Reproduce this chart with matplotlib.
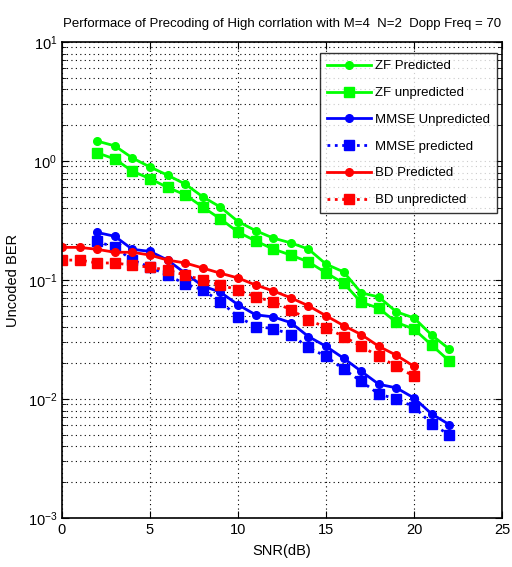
import matplotlib
matplotlib.use("Agg")
import matplotlib.pyplot as plt
from matplotlib.ticker import LogLocator, NullFormatter, FixedLocator

plt.rcParams['font.family'] = ['Liberation Sans', 'DejaVu Sans']

snr_zf = list(range(2, 23))
snr_mmse = list(range(2, 23))
snr_bd = list(range(0, 21))

zf_pred = [1.47, 1.34, 1.06, 0.89, 0.76, 0.64, 0.50, 0.41, 0.31, 0.26, 0.225,
           0.205, 0.182, 0.136, 0.117, 0.078, 0.072, 0.054, 0.048, 0.0345, 0.0263]
zf_unpred = [1.17, 1.04, 0.82, 0.71, 0.60, 0.52, 0.41, 0.326, 0.253, 0.213, 0.182,
             0.162, 0.142, 0.115, 0.094, 0.065, 0.058, 0.044, 0.0387, 0.0284, 0.0209]
mmse_unpred = [0.251, 0.233, 0.181, 0.174, 0.147, 0.114, 0.089, 0.079, 0.062, 0.051, 0.049,
               0.0438, 0.0335, 0.0277, 0.0220, 0.0171, 0.0133, 0.0124, 0.0102, 0.0075, 0.0061]
mmse_pred = [0.211, 0.188, 0.147, 0.128, 0.110, 0.0926, 0.0825, 0.0656, 0.0492, 0.0406, 0.0391,
             0.0348, 0.0271, 0.0228, 0.0178, 0.0141, 0.0110, 0.0100, 0.0086, 0.0062, 0.0050]
bd_pred = [0.188, 0.188, 0.181, 0.171, 0.171, 0.162, 0.147, 0.139, 0.126, 0.114, 0.104,
           0.0908, 0.0810, 0.0708, 0.0607, 0.0501, 0.0414, 0.0348, 0.0277, 0.0233, 0.0188]
bd_unpred = [0.147, 0.147, 0.139, 0.139, 0.133, 0.128, 0.121, 0.110, 0.100, 0.0908, 0.0825,
             0.0722, 0.0656, 0.0562, 0.0464, 0.0398, 0.0335, 0.0277, 0.0228, 0.0188, 0.0155]

labels = ['ZF Predicted', 'ZF unpredicted', 'MMSE Unpredicted', 'MMSE predicted',
          'BD Predicted', 'BD unpredicted']
title = 'Performace of Precoding of High corrlation with M=4  N=2  Dopp Freq = 70'

fig = plt.figure(figsize=(5.12, 5.67), dpi=100)
ax = fig.add_axes([62/512, 1-518/567, 440/512, 476/567])

green = '#00ff00'
blue = '#0000ff'
red = '#ff0000'
lw = 2.0
ax.plot(snr_zf, zf_pred, '-', color=green, lw=lw, marker='o', ms=5.5, label=labels[0])
ax.plot(snr_zf, zf_unpred, '-', color=green, lw=lw, marker='s', ms=7.5, label=labels[1])
ax.plot(snr_mmse, mmse_unpred, '-', color=blue, lw=lw, marker='o', ms=5.5, label=labels[2])
ax.plot(snr_mmse, mmse_pred, ':', color=blue, lw=lw, marker='s', ms=7.5, label=labels[3])
ax.plot(snr_bd, bd_pred, '-', color=red, lw=lw, marker='o', ms=5.5, label=labels[4])
ax.plot(snr_bd, bd_unpred, ':', color=red, lw=lw, marker='s', ms=7.5, label=labels[5])

ax.set_yscale('log')
ax.set_xlim(0, 25)
ax.set_ylim(1e-3, 10)
ax.xaxis.set_major_locator(FixedLocator([0, 5, 10, 15, 20, 25]))
ax.yaxis.set_major_locator(LogLocator(base=10, numticks=10))
ax.yaxis.set_minor_locator(LogLocator(base=10, subs=range(2, 10), numticks=20))
ax.yaxis.set_minor_formatter(NullFormatter())
ax.grid(True, which='major', axis='both', linestyle=(0, (1, 3)), color='black', lw=0.8)
ax.grid(True, which='minor', axis='y', linestyle=(0, (1, 3)), color='black', lw=0.8)
ax.tick_params(which='both', direction='in', top=True, right=True, labelsize=10.5)
ax.tick_params(which='major', length=5)
ax.tick_params(which='minor', length=3)
for s in ax.spines.values():
    s.set_linewidth(1.2)

ax.set_title(title, fontsize=9.5, pad=11)
ax.set_xlabel('SNR(dB)', fontsize=10.5, labelpad=5)
ax.set_ylabel('Uncoded BER', fontsize=10.5)
ax.yaxis.set_label_coords(-0.095, 0.5)

leg = ax.legend(loc='upper right', bbox_to_anchor=(0.989, 0.977), borderaxespad=0,
                fontsize=9.5, frameon=True, fancybox=False, edgecolor='black',
                handlelength=3.3, borderpad=0.55, labelspacing=1.1, handletextpad=0.3)
leg.get_frame().set_linewidth(1.0)

fig.savefig('out.png', dpi=100)
